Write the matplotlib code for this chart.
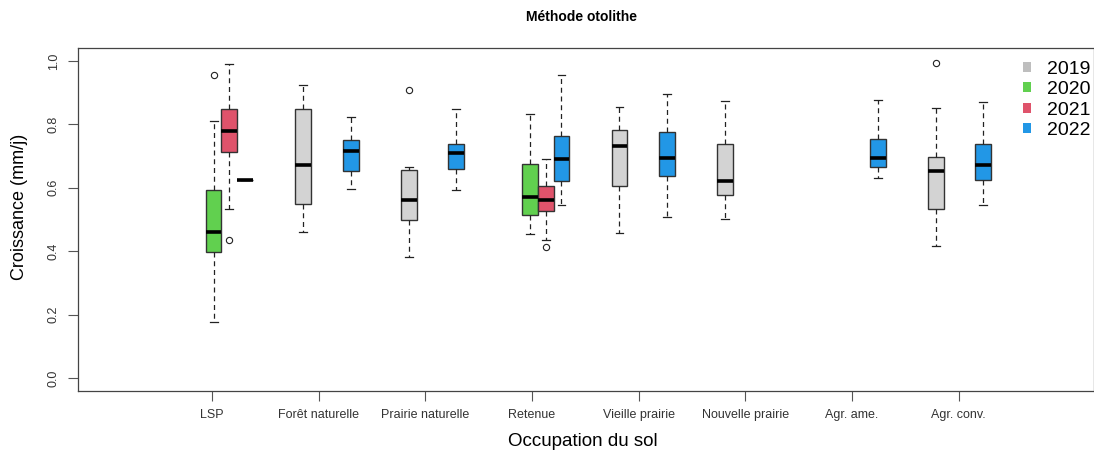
import matplotlib.pyplot as plt
from matplotlib.patches import Patch

plt.rcParams['font.family'] = ['Liberation Sans', 'DejaVu Sans']

categories = ["LSP", "Forêt naturelle", "Prairie naturelle", "Retenue",
              "Vieille prairie", "Nouvelle prairie", "Agr. ame.", "Agr. conv."]
years = ["2019", "2020", "2021", "2022"]
year_colors = ["#D3D3D3", "#61D04F", "#DF536B", "#2297E6"]
legend_colors = ["#BEBEBE", "#61D04F", "#DF536B", "#2297E6"]

# one entry per box: (category index, year index)
box_cat = [0, 0, 0, 1, 1, 2, 2, 3, 3, 3, 4, 4, 5, 6, 7, 7]
box_year = [1, 2, 3, 0, 3, 0, 3, 1, 2, 3, 0, 3, 0, 3, 0, 3]
whislo = [0.177, 0.534, 0.626, 0.462, 0.597, 0.382, 0.594, 0.455, 0.436, 0.546,
          0.457, 0.509, 0.502, 0.630, 0.417, 0.546]
q1 = [0.398, 0.714, 0.626, 0.550, 0.653, 0.499, 0.658, 0.513, 0.527, 0.621,
      0.607, 0.637, 0.578, 0.665, 0.534, 0.625]
med = [0.459, 0.779, 0.626, 0.671, 0.716, 0.562, 0.711, 0.570, 0.562, 0.690,
       0.731, 0.693, 0.621, 0.693, 0.653, 0.671]
q3 = [0.594, 0.847, 0.626, 0.850, 0.752, 0.655, 0.738, 0.675, 0.606, 0.762,
      0.783, 0.777, 0.738, 0.754, 0.697, 0.738]
whishi = [0.812, 0.992, 0.626, 0.924, 0.823, 0.667, 0.850, 0.833, 0.690, 0.956,
          0.855, 0.896, 0.874, 0.877, 0.853, 0.871]
fliers = [[0.957], [0.436], [], [], [], [0.908], [], [], [0.413], [],
          [], [], [], [], [0.993], []]

group_step = 6.67   # slot units between categories
tick_start, tick_step = 0.905, 6.747

fig = plt.figure(figsize=(10.94, 4.59), dpi=100)
ax = fig.add_axes([78/1094, 1 - 391/459, 1 - 78/1094, (391 - 48)/459])

stats = []
for i in range(len(box_cat)):
    stats.append(dict(whislo=whislo[i], q1=q1[i], med=med[i], q3=q3[i],
                      whishi=whishi[i], fliers=fliers[i]))
positions = [c * group_step + y for c, y in zip(box_cat, box_year)]

bp = ax.bxp(stats, positions=positions, widths=1.0, patch_artist=True,
            boxprops=dict(edgecolor="#333333", linewidth=1.0),
            medianprops=dict(color="black", linewidth=2.6, solid_capstyle="butt"),
            whiskerprops=dict(color="#222222", linewidth=0.9, linestyle=(0, (4, 3))),
            capprops=dict(color="#222222", linewidth=0.9),
            capwidths=0.5,
            flierprops=dict(marker="o", markersize=4.5, markerfacecolor="none",
                            markeredgecolor="#222222", markeredgewidth=0.8))
for patch, yi in zip(bp["boxes"], box_year):
    patch.set_facecolor(year_colors[yi])

ax.set_xlim(-7.576, 56.7)
ax.set_ylim(-0.041, 1.041)
ax.set_yticks([0.0, 0.2, 0.4, 0.6, 0.8, 1.0])
ax.set_yticklabels(["0.0", "0.2", "0.4", "0.6", "0.8", "1.0"], rotation=90,
                   va="center", fontsize=9, color="#333333")
ax.set_xticks([tick_start + tick_step * i for i in range(len(categories))])
ax.set_xticklabels(categories, fontsize=9, color="#333333")
ax.tick_params(axis="both", length=7, width=0.8, color="#555555", pad=6)
ax.tick_params(axis="x", pad=6)
for s in ax.spines.values():
    s.set_color("#444444")
    s.set_linewidth(0.9)

handles = [Patch(facecolor=c, edgecolor="none") for c in legend_colors]
fig.legend(handles, years, loc="upper left", bbox_to_anchor=(1023/1094, 1 - 61/459),
           frameon=False, fontsize=14, handlelength=0.42, handleheight=0.42,
           handletextpad=0.8, labelspacing=0.17, borderaxespad=0, borderpad=0)

fig.text(581/1094, 1 - 17/459, "Méthode otolithe", ha="center", va="center",
         fontsize=10, fontweight="bold")
fig.text(20/1094, 1 - 207/459, "Croissance (mm/j)", ha="center", va="center",
         rotation=90, fontsize=13)
fig.text(583/1094, 1 - 441/459, "Occupation du sol", ha="center", va="center",
         fontsize=13.5)

plt.savefig("out.png", dpi=100)
